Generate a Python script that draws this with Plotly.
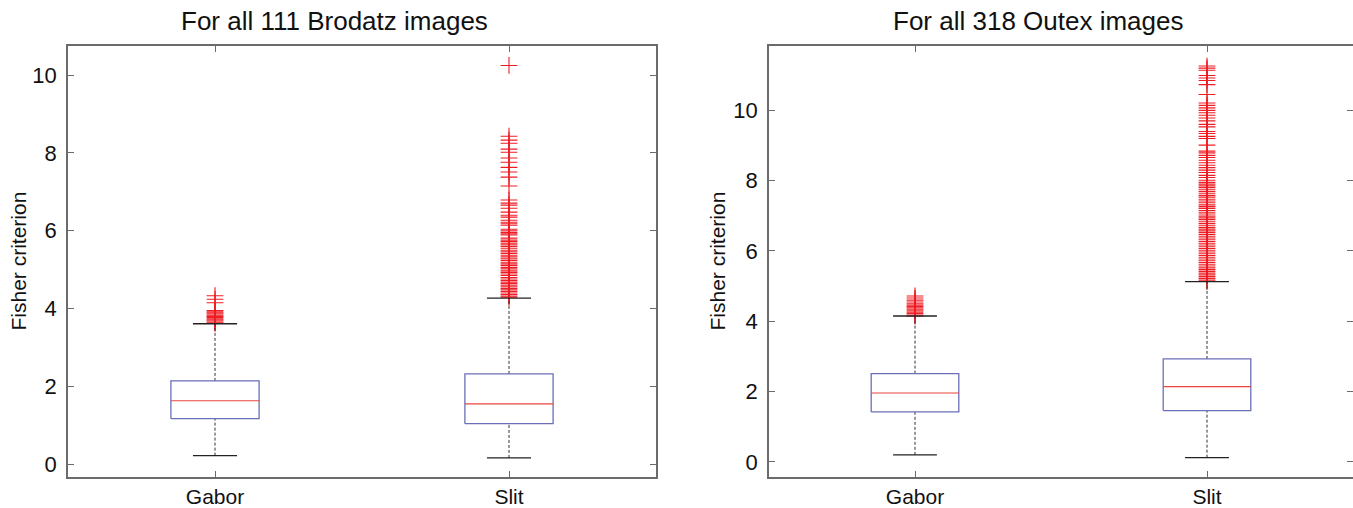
import plotly.graph_objects as go

W, H = 1353, 508

categories = ["Gabor", "Slit"]
positions = [1, 2]

titles = ["For all 111 Brodatz images", "For all 318 Outex images"]
y_title = "Fisher criterion"
y_tickvals = [0, 2, 4, 6, 8, 10]

# ---- Brodatz (left) ----
brodatz_low = [0.22, 0.16]
brodatz_q1 = [1.17, 1.04]
brodatz_median = [1.63, 1.55]
brodatz_q3 = [2.14, 2.32]
brodatz_high = [3.61, 4.27]
brodatz_gabor_outliers = [4.33, 4.24, 4.15, 3.95, 3.92, 3.89, 3.86, 3.83, 3.80,
                          3.77, 3.74, 3.71, 3.68, 3.65, 3.62]
brodatz_slit_outliers = [10.25, 8.43, 8.33, 8.25, 8.10, 8.02, 7.87, 7.76, 7.63,
                         7.51, 7.38, 7.15, 6.79, 6.71, 6.66, 6.58, 6.48, 6.40,
                         6.35, 6.27, 6.22, 6.18, 6.14, 6.04, 6.00, 5.96, 5.92,
                         5.89, 5.81, 5.76, 5.72, 5.68, 5.64, 5.60, 5.55, 5.50,
                         5.46, 5.42, 5.37, 5.33, 5.28, 5.24, 5.19, 5.15, 5.11,
                         5.06, 5.02, 4.97, 4.93, 4.89, 4.85, 4.80, 4.76, 4.72,
                         4.68, 4.64, 4.60, 4.56, 4.52, 4.48, 4.44, 4.40, 4.36,
                         4.32, 4.29]

# ---- Outex (right) ----
outex_low = [0.20, 0.12]
outex_q1 = [1.42, 1.46]
outex_median = [1.96, 2.14]
outex_q3 = [2.51, 2.93]
outex_high = [4.15, 5.13]
outex_gabor_outliers = [4.72, 4.66, 4.60, 4.55, 4.50, 4.46, 4.42, 4.38, 4.34,
                        4.30, 4.26, 4.22, 4.18, 4.15]
outex_slit_outliers = [11.26, 11.20, 11.14, 10.99, 10.92, 10.85, 10.73, 10.45,
                       10.21, 10.14, 10.07, 10.00, 9.93, 9.86, 9.78, 9.70, 9.60,
                       9.53, 9.40, 9.34, 9.26, 9.20, 9.01, 8.84, 8.79, 8.72,
                       8.66, 8.58, 8.51, 8.44, 8.37, 8.30, 8.23, 8.15, 8.09,
                       8.01, 7.95, 7.90, 7.85, 7.80, 7.74, 7.69, 7.64, 7.58,
                       7.53, 7.47, 7.42, 7.37, 7.31, 7.26, 7.21, 7.15, 7.10,
                       7.05, 6.99, 6.94, 6.89, 6.83, 6.78, 6.73, 6.67, 6.62,
                       6.57, 6.52, 6.47, 6.42, 6.37, 6.32, 6.27, 6.22, 6.17,
                       6.12, 6.07, 6.02, 5.97, 5.92, 5.87, 5.82, 5.77, 5.72,
                       5.67, 5.62, 5.57, 5.52, 5.47, 5.42, 5.37, 5.32, 5.27,
                       5.22, 5.17, 5.13]

panels = [
    dict(low=brodatz_low, q1=brodatz_q1, med=brodatz_median, q3=brodatz_q3,
         high=brodatz_high, out=[brodatz_gabor_outliers, brodatz_slit_outliers],
         yrange=[-0.33, 10.75]),
    dict(low=outex_low, q1=outex_q1, med=outex_median, q3=outex_q3,
         high=outex_high, out=[outex_gabor_outliers, outex_slit_outliers],
         yrange=[-0.43, 11.83]),
]

BOX_HALF = 0.15
CAP_HALF = 0.075
BLUE = "#6a6fb8"
RED = "#e8453f"
OUT_RED = "#ee1c24"
FRAME = "#6b6b6b"
FONT = "Liberation Sans, Arial, sans-serif"

fig = go.Figure()

for i, p in enumerate(panels):
    xa = "x" if i == 0 else "x2"
    ya = "y" if i == 0 else "y2"
    # outliers first
    for j, pos in enumerate(positions):
        fig.add_trace(go.Scatter(
            x=[pos] * len(p["out"][j]), y=p["out"][j], mode="markers",
            marker=dict(symbol="cross-thin", size=12,
                        line=dict(color=OUT_RED, width=1.1)),
            xaxis=xa, yaxis=ya, showlegend=False, hoverinfo="skip"))
    # dashed whiskers
    wx, wy = [], []
    for j, pos in enumerate(positions):
        wx += [pos, pos, None, pos, pos, None]
        wy += [p["low"][j], p["q1"][j], None, p["q3"][j], p["high"][j], None]
    fig.add_trace(go.Scatter(x=wx, y=wy, mode="lines",
                             line=dict(color="#333333", width=1, dash="3px,2px"),
                             xaxis=xa, yaxis=ya, showlegend=False, hoverinfo="skip"))
    # caps
    cx, cy = [], []
    for j, pos in enumerate(positions):
        for v in (p["low"][j], p["high"][j]):
            cx += [pos - CAP_HALF, pos + CAP_HALF, None]
            cy += [v, v, None]
    fig.add_trace(go.Scatter(x=cx, y=cy, mode="lines",
                             line=dict(color="#222222", width=1.3),
                             xaxis=xa, yaxis=ya, showlegend=False, hoverinfo="skip"))
    # boxes
    bx, by = [], []
    for j, pos in enumerate(positions):
        bx += [pos - BOX_HALF, pos + BOX_HALF, pos + BOX_HALF, pos - BOX_HALF,
               pos - BOX_HALF, None]
        by += [p["q1"][j], p["q1"][j], p["q3"][j], p["q3"][j], p["q1"][j], None]
    fig.add_trace(go.Scatter(x=bx, y=by, mode="lines",
                             line=dict(color=BLUE, width=1.3),
                             xaxis=xa, yaxis=ya, showlegend=False, hoverinfo="skip"))
    # medians
    mx, my = [], []
    for j, pos in enumerate(positions):
        mx += [pos - BOX_HALF, pos + BOX_HALF, None]
        my += [p["med"][j], p["med"][j], None]
    fig.add_trace(go.Scatter(x=mx, y=my, mode="lines",
                             line=dict(color=RED, width=1.2),
                             xaxis=xa, yaxis=ya, showlegend=False, hoverinfo="skip"))

axis_common = dict(showline=True, linecolor=FRAME, linewidth=1.5, mirror="ticks",
                   ticks="inside", ticklen=6, tickcolor=FRAME, tickwidth=1,
                   showgrid=False, zeroline=False)
xtickfont = dict(family=FONT, size=21, color="#111111")
ytickfont = dict(family=FONT, size=22, color="#111111")

left_dom = [68 / W, 656 / W]
right_dom = [769 / W, 1.0]

fig.update_layout(
    width=W, height=H, template="none",
    paper_bgcolor="white", plot_bgcolor="white",
    margin=dict(l=0, r=0, t=46, b=31, pad=0),
    showlegend=False,
    xaxis=dict(domain=left_dom, range=[0.5, 2.5], tickvals=positions,
               ticktext=categories, anchor="y", ticklabelstandoff=0,
               tickfont=xtickfont, **axis_common),
    yaxis=dict(domain=[0, 1], range=panels[0]["yrange"], tickvals=y_tickvals,
               anchor="x", ticklabelstandoff=5, tickfont=ytickfont, **axis_common),
    xaxis2=dict(domain=right_dom, range=[0.5, 2.5], tickvals=positions,
                ticktext=categories, anchor="y2", ticklabelstandoff=0,
                tickfont=xtickfont, **axis_common),
    yaxis2=dict(domain=[0, 1], range=panels[1]["yrange"], tickvals=y_tickvals,
                anchor="x2", ticklabelstandoff=5, tickfont=ytickfont, **axis_common),
)

annotations = [
    dict(text=titles[0], x=334 / W, y=(477 - 21) / 431, xref="paper", yref="paper",
         xanchor="center", yanchor="middle", showarrow=False,
         font=dict(family=FONT, size=26, color="#111111")),
    dict(text=titles[1], x=1038 / W, y=(477 - 21) / 431, xref="paper", yref="paper",
         xanchor="center", yanchor="middle", showarrow=False,
         font=dict(family=FONT, size=26, color="#111111")),
    dict(text=y_title, x=18 / W, y=0.5, xref="paper", yref="paper", textangle=-90,
         xanchor="center", yanchor="middle", showarrow=False,
         font=dict(family=FONT, size=21, color="#111111")),
    dict(text=y_title, x=717 / W, y=0.5, xref="paper", yref="paper", textangle=-90,
         xanchor="center", yanchor="middle", showarrow=False,
         font=dict(family=FONT, size=21, color="#111111")),
]
fig.update_layout(annotations=annotations)

fig.write_html("out.html",
               config={"displayModeBar": False},
               post_script="document.body.style.margin='0';"
                           "document.body.style.overflow='hidden';")
